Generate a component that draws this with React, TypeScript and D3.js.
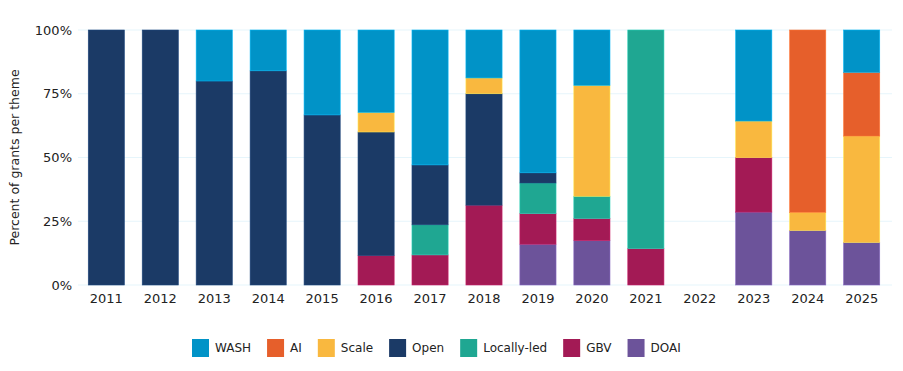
import React, { useEffect, useRef } from 'react';
import * as d3 from 'd3';

const years = ['2011', '2012', '2013', '2014', '2015', '2016', '2017', '2018', '2019', '2020', '2021', '2022', '2023', '2024', '2025'];

// stacked bottom -> top
const themes = ['DOAI', 'GBV', 'Locally-led', 'Open', 'Scale', 'AI', 'WASH'];
const legendOrder = ['WASH', 'AI', 'Scale', 'Open', 'Locally-led', 'GBV', 'DOAI'];

const doai = [0, 0, 0, 0, 0, 0, 0, 0, 16, 17.4, 0, 0, 28.6, 21.4, 16.7];
const gbv = [0, 0, 0, 0, 0, 11.5, 11.8, 31.3, 12, 8.7, 14.3, 0, 21.4, 0, 0];
const locallyLed = [0, 0, 0, 0, 0, 0, 11.8, 0, 12, 8.7, 85.7, 0, 0, 0, 0];
const open = [100, 100, 80, 84, 66.7, 48.5, 23.5, 43.7, 4, 0, 0, 0, 0, 0, 0];
const scale = [0, 0, 0, 0, 0, 7.7, 0, 6.2, 0, 43.5, 0, 0, 14.3, 7.1, 41.7];
const ai = [0, 0, 0, 0, 0, 0, 0, 0, 0, 0, 0, 0, 0, 71.5, 25];
const wash = [0, 0, 20, 16, 33.3, 32.3, 52.9, 18.8, 56, 21.7, 0, 0, 35.7, 0, 16.6];

const yTicks = [0, 25, 50, 75, 100];

const colors: Record<string, string> = {
  WASH: '#0193c7',
  AI: '#e65f2b',
  Scale: '#f9b83f',
  Open: '#1b3a66',
  'Locally-led': '#1fa792',
  GBV: '#a31a55',
  DOAI: '#6c539a',
};

const FONT = '"DejaVu Sans", sans-serif';

const App: React.FC = () => {
  const svgRef = useRef<SVGSVGElement | null>(null);

  useEffect(() => {
    const svg = d3.select(svgRef.current);
    svg.selectAll('*').remove();

    const width = 903;
    const margin = { top: 30, left: 78, right: 13 };
    const plotBottom = 285;

    const series: Record<string, number[]> = {
      DOAI: doai,
      GBV: gbv,
      'Locally-led': locallyLed,
      Open: open,
      Scale: scale,
      AI: ai,
      WASH: wash,
    };

    const table = years.map((year, i) => {
      const row: Record<string, number | string> = { year };
      themes.forEach((t) => (row[t] = series[t][i]));
      return row;
    });

    const x = d3
      .scaleBand()
      .domain(years)
      .range([margin.left, width - margin.right])
      .paddingInner(0.33)
      .paddingOuter(0.19);

    const y = d3.scaleLinear().domain([0, 100]).range([plotBottom, margin.top]);

    // gridlines
    svg
      .append('g')
      .selectAll('line')
      .data(yTicks)
      .join('line')
      .attr('x1', margin.left)
      .attr('x2', width - 11)
      .attr('y1', (d) => y(d))
      .attr('y2', (d) => y(d))
      .attr('stroke', '#e6f5fb')
      .attr('stroke-width', 1.2);

    // bars
    const stack = d3.stack<Record<string, number | string>>().keys(themes);
    const layers = stack(table as any);

    svg
      .append('g')
      .selectAll('g')
      .data(layers)
      .join('g')
      .attr('fill', (d) => colors[d.key])
      .attr('stroke', (d) => d3.color(colors[d.key])!.brighter(0.6).toString())
      .attr('stroke-width', 0.6)
      .selectAll('rect')
      .data((d) => d.filter((s) => s[1] - s[0] > 0))
      .join('rect')
      .attr('x', (d) => x(String(d.data.year))!)
      .attr('width', x.bandwidth())
      .attr('y', (d) => y(d[1]))
      .attr('height', (d) => y(d[0]) - y(d[1]));

    // y tick labels
    svg
      .append('g')
      .selectAll('text')
      .data(yTicks)
      .join('text')
      .attr('x', 72)
      .attr('y', (d) => y(d))
      .attr('dy', '0.35em')
      .attr('text-anchor', 'end')
      .attr('font-family', FONT)
      .attr('font-size', 13)
      .attr('fill', '#222')
      .text((d) => `${d}%`);

    // x tick labels
    svg
      .append('g')
      .selectAll('text')
      .data(years)
      .join('text')
      .attr('x', (d) => x(d)! + x.bandwidth() / 2)
      .attr('y', 303)
      .attr('text-anchor', 'middle')
      .attr('font-family', FONT)
      .attr('font-size', 13)
      .attr('fill', '#222')
      .text((d) => d);

    // y title
    svg
      .append('text')
      .attr('transform', `translate(19, ${(margin.top + plotBottom) / 2}) rotate(-90)`)
      .attr('text-anchor', 'middle')
      .attr('font-family', FONT)
      .attr('font-size', 12.5)
      .attr('fill', '#222')
      .text('Percent of grants per theme');

    // legend
    const legend = svg.append('g').attr('transform', 'translate(192, 339)');
    let lx = 0;
    legendOrder.forEach((name) => {
      const item = legend.append('g').attr('transform', `translate(${lx}, 0)`);
      item.append('rect').attr('width', 17).attr('height', 18).attr('fill', colors[name]);
      const t = item
        .append('text')
        .attr('x', 23)
        .attr('y', 9)
        .attr('dy', '0.35em')
        .attr('font-family', FONT)
        .attr('font-size', 12)
        .attr('fill', '#222')
        .text(name);
      const w = (t.node() as SVGTextElement).getComputedTextLength();
      lx += 23 + w + 16;
    });
  }, []);

  return <svg ref={svgRef} width={903} height={371} style={{ display: 'block', margin: -8 }} />;
};

export default App;
